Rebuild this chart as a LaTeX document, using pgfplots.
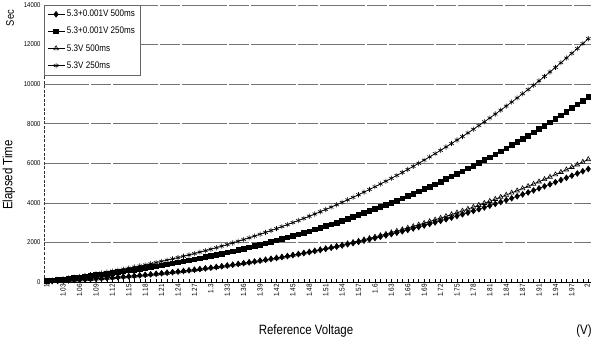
\documentclass[border=0pt]{standalone}
\usepackage{fontspec}
\setmainfont{Liberation Sans}[FakeStretch=0.85]
\usepackage{pgfplots}
\pgfplotsset{compat=1.18}
\usepackage{pgfplotstable}

\pgfplotstableread{
i d q t s
0 30 50 30 50
1 42 80 42 86
2 55 111 55 122
3 69 143 69 160
4 83 175 83 198
5 99 208 98 238
6 114 242 113 279
7 130 276 129 321
8 148 311 146 364
9 166 347 164 408
10 184 384 182 454
11 204 421 201 501
12 224 459 221 549
13 244 498 241 598
14 267 538 263 649
15 289 579 285 701
16 311 621 307 754
17 336 664 331 809
18 360 708 355 865
19 386 752 381 923
20 413 798 407 982
21 440 845 434 1043
22 468 892 462 1105
23 496 941 490 1168
24 526 991 520 1233
25 556 1042 550 1300
26 588 1094 582 1368
27 620 1148 614 1438
28 653 1202 647 1510
29 688 1258 682 1583
30 722 1315 717 1658
31 758 1373 753 1735
32 795 1432 790 1813
33 832 1492 828 1893
34 870 1554 867 1975
35 910 1618 908 2059
36 951 1682 949 2145
37 992 1748 991 2232
38 1033 1815 1034 2321
39 1077 1884 1079 2413
40 1121 1954 1124 2506
41 1166 2026 1171 2601
42 1213 2099 1219 2698
43 1260 2173 1268 2798
44 1308 2249 1318 2899
45 1357 2326 1369 3002
46 1407 2405 1421 3107
47 1458 2486 1475 3215
48 1510 2568 1529 3324
49 1563 2652 1585 3436
50 1618 2738 1643 3550
51 1673 2825 1701 3666
52 1729 2913 1760 3784
53 1786 3004 1821 3905
54 1845 3096 1883 4028
55 1905 3190 1947 4153
56 1966 3285 2012 4280
57 2027 3383 2078 4410
58 2090 3482 2145 4542
59 2154 3583 2214 4677
60 2219 3686 2284 4814
61 2285 3791 2355 4953
62 2353 3897 2428 5095
63 2421 4006 2502 5240
64 2490 4116 2577 5387
65 2561 4229 2654 5536
66 2634 4343 2733 5688
67 2706 4459 2812 5843
68 2781 4578 2894 6000
69 2856 4698 2976 6160
70 2933 4821 3060 6322
71 3011 4945 3146 6487
72 3090 5072 3233 6655
73 3171 5200 3322 6826
74 3252 5331 3412 6999
75 3334 5464 3503 7175
76 3419 5599 3597 7354
77 3504 5737 3691 7536
78 3591 5876 3788 7720
79 3679 6018 3886 7908
80 3767 6162 3985 8098
81 3858 6308 4086 8291
82 3950 6457 4189 8487
83 4042 6608 4293 8687
84 4137 6761 4399 8889
85 4232 6917 4507 9094
86 4330 7075 4617 9302
87 4428 7235 4728 9514
88 4527 7398 4840 9728
89 4629 7564 4955 9945
90 4731 7732 5071 10166
91 4835 7902 5189 10390
92 4939 8075 5308 10617
93 5046 8250 5430 10847
94 5154 8428 5553 11080
95 5263 8608 5678 11317
96 5374 8791 5805 11557
97 5485 8977 5933 11800
98 5599 9165 6064 12047
99 5714 9356 6196 12297
}\data

\begin{document}
\begin{tikzpicture}
\begin{axis}[
  scale only axis, width=547pt, height=277pt,
  xmin=-0.5, xmax=99.5, ymin=0, ymax=14000,
  axis x line*=bottom, axis y line*=left,
  x axis line style={-, black, line width=0.6pt},
  y axis line style={-, black!80, dash pattern=on 3pt off 1.5pt},
  xtick={0,3,...,99},
  xticklabels={1,1.03,1.06,1.09,1.12,1.15,1.18,1.21,1.24,1.27,1.3,1.33,1.36,1.39,1.42,1.45,1.48,1.51,1.54,1.57,1.6,1.63,1.66,1.69,1.72,1.75,1.78,1.81,1.84,1.87,1.91,1.94,1.97,\raisebox{2pt}{2}},
  x tick label style={rotate=90, anchor=east, font=\fontsize{7.5}{8}\selectfont, inner sep=2pt},
  minor xtick={0,...,99},
  tick align=inside,
  major tick length=3pt, minor tick length=3pt,
  x tick style={black, line width=0.4pt},
  minor x tick style={black, line width=0.4pt},
  ytick={0,2000,...,14000},
  scaled y ticks=false,
  y tick style={draw=none},
  y tick label style={font=\fontsize{7}{8}\selectfont, /pgf/number format/1000 sep={}},
  /pgf/number format/assume math mode=true,
  ymajorgrids,
  grid style={black!55, line width=0.6pt, dash pattern=on 45pt off 2pt on 20pt off 2pt},
  legend style={at={(0,1)}, anchor=north west, draw=black!60, line width=0.4pt,
    font=\fontsize{9.5}{10}\selectfont, row sep=5pt, inner sep=3pt,
    legend cell align=left, fill=white},
  clip=false,
]
\addplot[black, line width=0.7pt, mark=diamond*, mark size=2.8pt, mark options={solid, fill=black}] table[x=i, y=d]{\data};
\addlegendentry{5.3+0.001V 500ms}
\addplot[black, line width=0.7pt, mark=square*, mark size=2.3pt, mark options={solid, fill=black}] table[x=i, y=q]{\data};
\addlegendentry{5.3+0.001V 250ms}
\addplot[black, line width=0.7pt, mark=triangle, mark size=2.7pt, mark options={solid, fill=white, line width=0.6pt}] table[x=i, y=t]{\data};
\addlegendentry{5.3V 500ms}
\addplot[black, line width=0.7pt, mark=asterisk, mark size=2.6pt, mark options={solid, line width=0.6pt}] table[x=i, y=s]{\data};
\addlegendentry{5.3V 250ms}
\end{axis}
\node[rotate=90, font=\fontsize{13.5}{13.5}\selectfont] at ([shift={(-35pt,107pt)}]current axis.south west) {Elapsed Time};
\node[rotate=90, font=\fontsize{11}{11}\selectfont] at ([shift={(-34pt,264pt)}]current axis.south west) {Sec};
\node[font=\fontsize{13.5}{13.5}\selectfont] at ([shift={(262pt,-49pt)}]current axis.south west) {Reference Voltage};
\node[font=\fontsize{13.5}{13.5}\selectfont] at ([shift={(540pt,-49pt)}]current axis.south west) {(V)};
\pgfresetboundingbox
\path[use as bounding box] ([shift={(-44pt,-63pt)}]current axis.south west) rectangle ([shift={(0pt,5pt)}]current axis.north east);
\end{tikzpicture}
\end{document}
